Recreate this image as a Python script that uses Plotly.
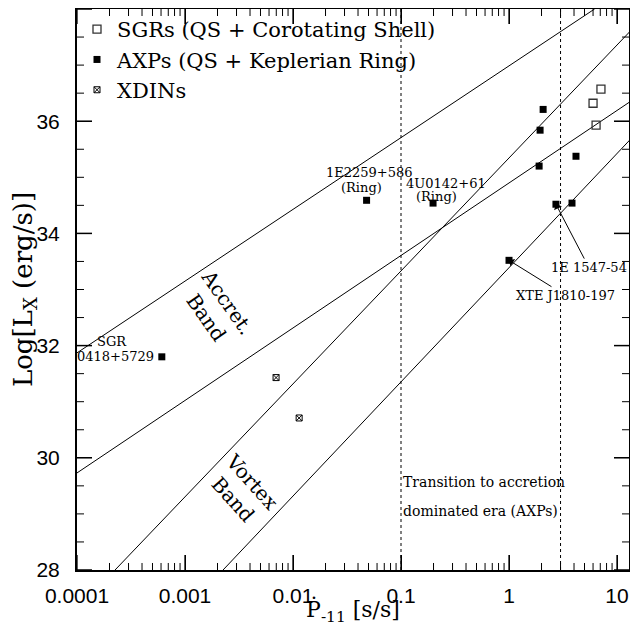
import numpy as np
import plotly.graph_objects as go

# ---------------- data ----------------
# Band boundary lines (endpoints; Pdot in 1e-11 s/s, log Lx)
acc_upper_x = [1e-4, 6.2]
acc_upper_y = [31.87, 38.0]
acc_lower_x = [1e-4, 15.3]
acc_lower_y = [29.73, 36.43]
vor_upper_x = [2.25e-4, 15.3]
vor_upper_y = [28.0, 37.73]
vor_lower_x = [2.25e-3, 15.3]
vor_lower_y = [28.0, 35.80]

# Transition (dotted) lines
trans_x = [0.1, 3.0]
y_span = [28, 38]

# SGRs (open squares)
sgr_x = [7.1, 6.0, 6.4]
sgr_y = [36.57, 36.32, 35.93]

# AXPs (filled squares)
axp_x = [6.1e-4, 0.048, 0.198, 2.07, 1.94, 1.90, 4.17, 2.72, 3.83, 1.0]
axp_y = [31.80, 34.59, 34.54, 36.21, 35.84, 35.20, 35.375, 34.52, 34.54, 33.52]

# XDINs
xdin_x = [0.00697, 0.0114]
xdin_y = [31.43, 30.71]

# Axis ticks
x_tickvals = [1e-4, 1e-3, 1e-2, 1e-1, 1, 10]
x_ticktext = ["0.0001", "0.001", "0.01", "0.1", "1", "10"]
x_minor = [m * 10.0 ** e for e in range(-4, 1) for m in range(2, 10)]
y_tickvals = [28, 30, 32, 34, 36, 38]
y_minor = [28.5, 29, 29.5, 30.5, 31, 31.5, 32.5, 33, 33.5,
           34.5, 35, 35.5, 36.5, 37, 37.5]

serif = "DejaVu Serif"
sans = "Liberation Sans"

X_LO, X_HI = -4.0, 1.111     # log10 axis range
Y_LO, Y_HI = 28.0, 38.0
PX_PER_DEC = 108.0           # horizontal pixels per decade
PX_PER_Y = 56.0              # vertical pixels per y unit

fig = go.Figure()

line_style = dict(color="black", width=1)
for lx, ly in [(acc_upper_x, acc_upper_y), (acc_lower_x, acc_lower_y),
               (vor_upper_x, vor_upper_y), (vor_lower_x, vor_lower_y)]:
    fig.add_trace(go.Scatter(x=lx, y=ly, mode="lines", line=line_style,
                             showlegend=False, hoverinfo="skip"))

for tx in trans_x:
    fig.add_trace(go.Scatter(x=[tx, tx], y=y_span, mode="lines",
                             line=dict(color="black", width=1, dash="dot"),
                             showlegend=False, hoverinfo="skip"))

# ---- tick marks on all four sides, each as its own short line trace ----
def seg(xs, ys, w):
    fig.add_trace(go.Scatter(x=xs, y=ys, mode="lines",
                             line=dict(color="black", width=w),
                             showlegend=False, hoverinfo="skip"))

def xticks(vals, px, w):
    dy = px / PX_PER_Y
    for v in vals:
        seg([v, v], [Y_LO, Y_LO + dy], w)
        seg([v, v], [Y_HI, Y_HI - dy], w)

def yticks(vals, px, w):
    f = 10 ** (px / PX_PER_DEC)
    lo, hi = 10 ** X_LO, 10 ** X_HI
    for v in vals:
        seg([lo, lo * f], [v, v], w)
        seg([hi, hi / f], [v, v], w)

xticks(x_tickvals, 15, 1.3)
xticks(x_minor, 7, 1)
yticks(y_tickvals, 15, 1.5)
yticks(y_minor, 7, 1)

fig.add_trace(go.Scatter(
    x=sgr_x, y=sgr_y, mode="markers", name="SGRs (QS + Corotating Shell)",
    legendgroup="a",
    marker=dict(symbol="square-open", size=8, color="#333333", line=dict(width=1.3))))
fig.add_trace(go.Scatter(
    x=axp_x, y=axp_y, mode="markers", name="AXPs (QS + Keplerian Ring)",
    legendgroup="b",
    marker=dict(symbol="square", size=7, color="black")))
fig.add_trace(go.Scatter(
    x=xdin_x, y=xdin_y, mode="markers", name="XDINs",
    legendgroup="c",
    marker=dict(symbol="square-x-open", size=6, color="black", line=dict(width=1))))

lg = np.log10
small = dict(family=serif, size=13, color="black")
ann = []
def txt(x, y, s, font=small, **kw):
    d = dict(x=lg(x), y=y, xref="x", yref="y", text=s, showarrow=False, font=font)
    d.update(kw)
    ann.append(d)

txt(2.11e-4, 32.07, "SGR")
txt(2.25e-4, 31.80, "0418+5729")
txt(0.0506, 35.09, "1E2259+586")
txt(0.0435, 34.82, "(Ring)")
txt(0.261, 34.89, "4U0142+61")
txt(0.215, 34.66, "(Ring)")
mid = dict(family=serif, size=14, color="black")
txt(0.1, 29.57, "Transition to accretion", font=mid, xanchor="left")
txt(0.1, 29.05, "dominated era (AXPs)", font=mid, xanchor="left")
big = dict(family=serif, size=20, color="black")
txt(0.00198, 32.64, "Accret.<br>Band", font=big, textangle=55)
txt(0.00344, 29.41, "Vortex<br>Band", font=big, textangle=48)

ann.append(dict(x=lg(2.72), y=34.52, xref="x", yref="y", ax=lg(5.5), ay=33.39,
                axref="x", ayref="y", text="1E 1547-54", showarrow=True,
                arrowhead=1, arrowsize=1.5, arrowwidth=1, arrowcolor="black", font=small))
ann.append(dict(x=lg(1.0), y=33.52, xref="x", yref="y", ax=lg(3.37), ay=32.89,
                axref="x", ayref="y", text="XTE J1810-197", showarrow=True,
                arrowhead=1, arrowsize=1.5, arrowwidth=1, arrowcolor="black", font=small))

fig.update_layout(
    width=622, height=618,
    margin=dict(l=69, r=1, t=1, b=56),
    plot_bgcolor="white", paper_bgcolor="white",
    annotations=ann,
    showlegend=True,
    legend=dict(x=0.0, y=1.0, xanchor="left", yanchor="top",
                bgcolor="rgba(0,0,0,0)", font=dict(family=serif, size=21, color="black"),
                tracegroupgap=0, itemwidth=30),
)
fig.update_xaxes(type="log", range=[X_LO, X_HI], automargin=False,
                 tickmode="array", tickvals=x_tickvals, ticktext=x_ticktext,
                 ticks="inside", ticklen=15, tickcolor="black",
                 ticklabeloverflow="allow",
                 showline=True, linewidth=2, linecolor="black", mirror="ticks",
                 showgrid=False, zeroline=False, ticklabelstandoff=6,
                 tickfont=dict(family=sans, size=21, color="black"),
                 title_text="Ṗ<sub>-11</sub> [s/s]",
                 title_font=dict(family=serif, size=22, color="black"), title_standoff=14)
fig.update_yaxes(range=[Y_LO, Y_HI], automargin=False,
                 tickmode="array", tickvals=y_tickvals,
                 ticktext=[str(v) for v in y_tickvals],
                 ticks="inside", ticklen=15, tickcolor="black",
                 showline=True, linewidth=2, linecolor="black", mirror="ticks",
                 showgrid=False, zeroline=False, ticklabelstandoff=11,
                 tickfont=dict(family=sans, size=21, color="black"),
                 title_text="Log[L<sub>X</sub> (erg/s)]",
                 title_font=dict(family=serif, size=26, color="black"), title_standoff=8)

fig.write_html("out.html")
